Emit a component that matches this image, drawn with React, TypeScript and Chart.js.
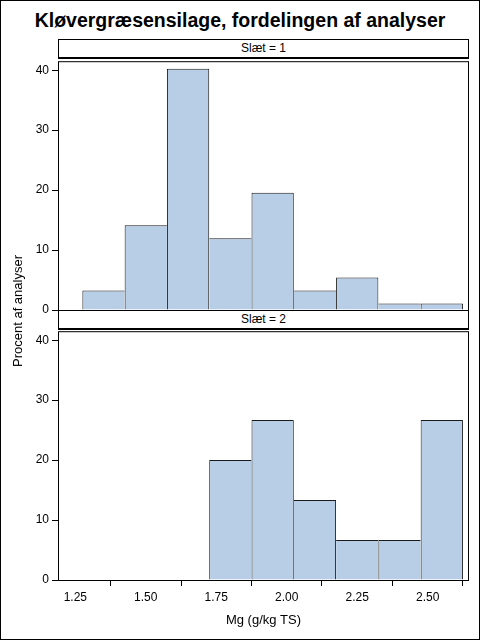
import React, { useEffect, useRef } from "react";
import { Chart, registerables } from "chart.js";

Chart.register(...registerables);

const binCenters = [1.35, 1.5, 1.65, 1.8, 1.95, 2.1, 2.25, 2.4, 2.55];
const slaet1Pct = [3.26, 14.13, 40.22, 11.96, 19.57, 3.26, 5.43, 1.09, 1.09];
const slaet2Pct = [0, 0, 0, 20.0, 26.67, 13.33, 6.67, 6.67, 26.67];
const yTicks = [0, 10, 20, 30, 40];
const xTicks = [1.25, 1.5, 1.75, 2.0, 2.25, 2.5];
const panelLabels = ["Slæt = 1", "Slæt = 2"];
const titleText = "Kløvergræsensilage, fordelingen af analyser";
const xTitle = "Mg (g/kg TS)";
const yTitle = "Procent af analyser";

const X_MIN = 1.1886;
const X_MAX = 2.6465;
const Y_MAX = 41.5;
const FONT = "'Liberation Sans', Arial, sans-serif";
const BAR_FILL = "#b8cee6";
const BAR_EDGE = "#1a1a1a";

const framePlugin = {
  id: "frame",
  afterDraw(chart: any) {
    const { ctx, chartArea } = chart;
    ctx.save();
    ctx.strokeStyle = "#000";
    ctx.lineWidth = 1;
    ctx.strokeRect(
      chartArea.left + 0.5,
      chartArea.top + 0.5,
      chartArea.right - chartArea.left - 1,
      chartArea.bottom - chartArea.top
    );
    ctx.restore();
  },
};

function edgeWidths(values: number[]) {
  return (ctx: any) => {
    const i = ctx.dataIndex;
    const v = values[i];
    const prev = i > 0 ? values[i - 1] : -1;
    const next = i < values.length - 1 ? values[i + 1] : -1;
    return {
      top: 1,
      bottom: 0,
      left: v >= prev ? 1 : 0,
      right: v > next ? 1 : 0,
    };
  };
}

function makeConfig(values: number[], showX: boolean, padTop: number, padBottom: number) {
  return {
    type: "bar" as const,
    data: {
      datasets: [
        {
          data: binCenters.map((c, i) => ({ x: c, y: values[i] })),
          backgroundColor: BAR_FILL,
          borderColor: BAR_EDGE,
          borderWidth: edgeWidths(values),
          borderSkipped: false,
          barPercentage: 1,
          categoryPercentage: 1,
          inflateAmount: 0,
        },
      ],
    },
    options: {
      responsive: false,
      animation: false,
      events: [],
      layout: { padding: { left: 0, right: 12, top: padTop, bottom: padBottom } },
      plugins: { legend: { display: false }, tooltip: { enabled: false }, title: { display: false } },
      scales: {
        x: {
          type: "linear",
          display: showX,
          min: X_MIN,
          max: X_MAX,
          offset: false,
          afterBuildTicks: (s: any) => {
            s.ticks = xTicks.map((v) => ({ value: v }));
          },
          afterFit: (s: any) => {
            s.height = showX ? 61 : 0;
          },
          ticks: {
            color: "#000",
            font: { family: FONT, size: 12 },
            padding: 4,
            maxRotation: 0,
            autoSkip: false,
            callback: (v: any) => Number(v).toFixed(2),
          },
          grid: { drawOnChartArea: false, tickLength: 6, tickColor: "#000" },
          border: { display: false },
          title: {
            display: true,
            text: xTitle,
            color: "#000",
            font: { family: FONT, size: 13 },
            padding: { top: 0, bottom: 13 },
          },
        },
        y: {
          type: "linear",
          min: 0,
          max: Y_MAX,
          afterBuildTicks: (s: any) => {
            s.ticks = yTicks.map((v) => ({ value: v }));
          },
          afterFit: (s: any) => {
            s.width = 57;
          },
          ticks: {
            color: "#000",
            font: { family: FONT, size: 12 },
            padding: 3,
          },
          grid: { drawOnChartArea: false, tickLength: 6, tickColor: "#000" },
          border: { display: false },
        },
      },
    },
    plugins: [framePlugin],
  };
}

function Panel({ values, showX, top, height, padTop, padBottom }: any) {
  const ref = useRef<HTMLCanvasElement | null>(null);
  useEffect(() => {
    if (!ref.current) return;
    const chart = new Chart(ref.current, makeConfig(values, showX, padTop, padBottom) as any);
    return () => chart.destroy();
  }, []);
  return (
    <canvas
      ref={ref}
      width={480}
      height={height}
      style={{ position: "absolute", left: 0, top, width: 480, height }}
    />
  );
}

function Strip({ label, top, height }: any) {
  return (
    <div
      style={{
        position: "absolute",
        left: 57,
        top,
        width: 411,
        height,
        boxSizing: "border-box",
        borderTop: "1px solid #000",
        borderLeft: "1px solid #000",
        borderRight: "1px solid #000",
        borderBottom: "2px solid #000",
        background: "#fff",
        font: `12px ${FONT}`,
        color: "#000",
        textAlign: "center",
        lineHeight: `${height - 3}px`,
      }}
    >
      {label}
    </div>
  );
}

export default function App() {
  return (
    <div
      style={{
        position: "absolute",
        left: 0,
        top: 0,
        width: 480,
        height: 640,
        boxSizing: "border-box",
        border: "1px solid #000",
        background: "#fff",
        overflow: "hidden",
      }}
    >
      <Panel values={slaet1Pct} showX={false} top={50} height={270} padTop={7} padBottom={11} />
      <Panel values={slaet2Pct} showX={true} top={320} height={320} padTop={8} padBottom={0} />
      <div
        style={{
          position: "absolute",
          left: -1,
          top: 9,
          width: 480,
          textAlign: "center",
          font: `bold 19.5px ${FONT}`,
          lineHeight: "20px",
          color: "#000",
        }}
      >
        {titleText}
      </div>
      <Strip label={panelLabels[0]} top={38} height={20} />
      <Strip label={panelLabels[1]} top={309} height={20} />
      <div
        style={{
          position: "absolute",
          left: 17 - 100,
          top: 310 - 8,
          width: 200,
          height: 16,
          lineHeight: "16px",
          textAlign: "center",
          font: `13px ${FONT}`,
          color: "#000",
          transform: "rotate(-90deg)",
          transformOrigin: "50% 50%",
        }}
      >
        {yTitle}
      </div>
    </div>
  );
}
